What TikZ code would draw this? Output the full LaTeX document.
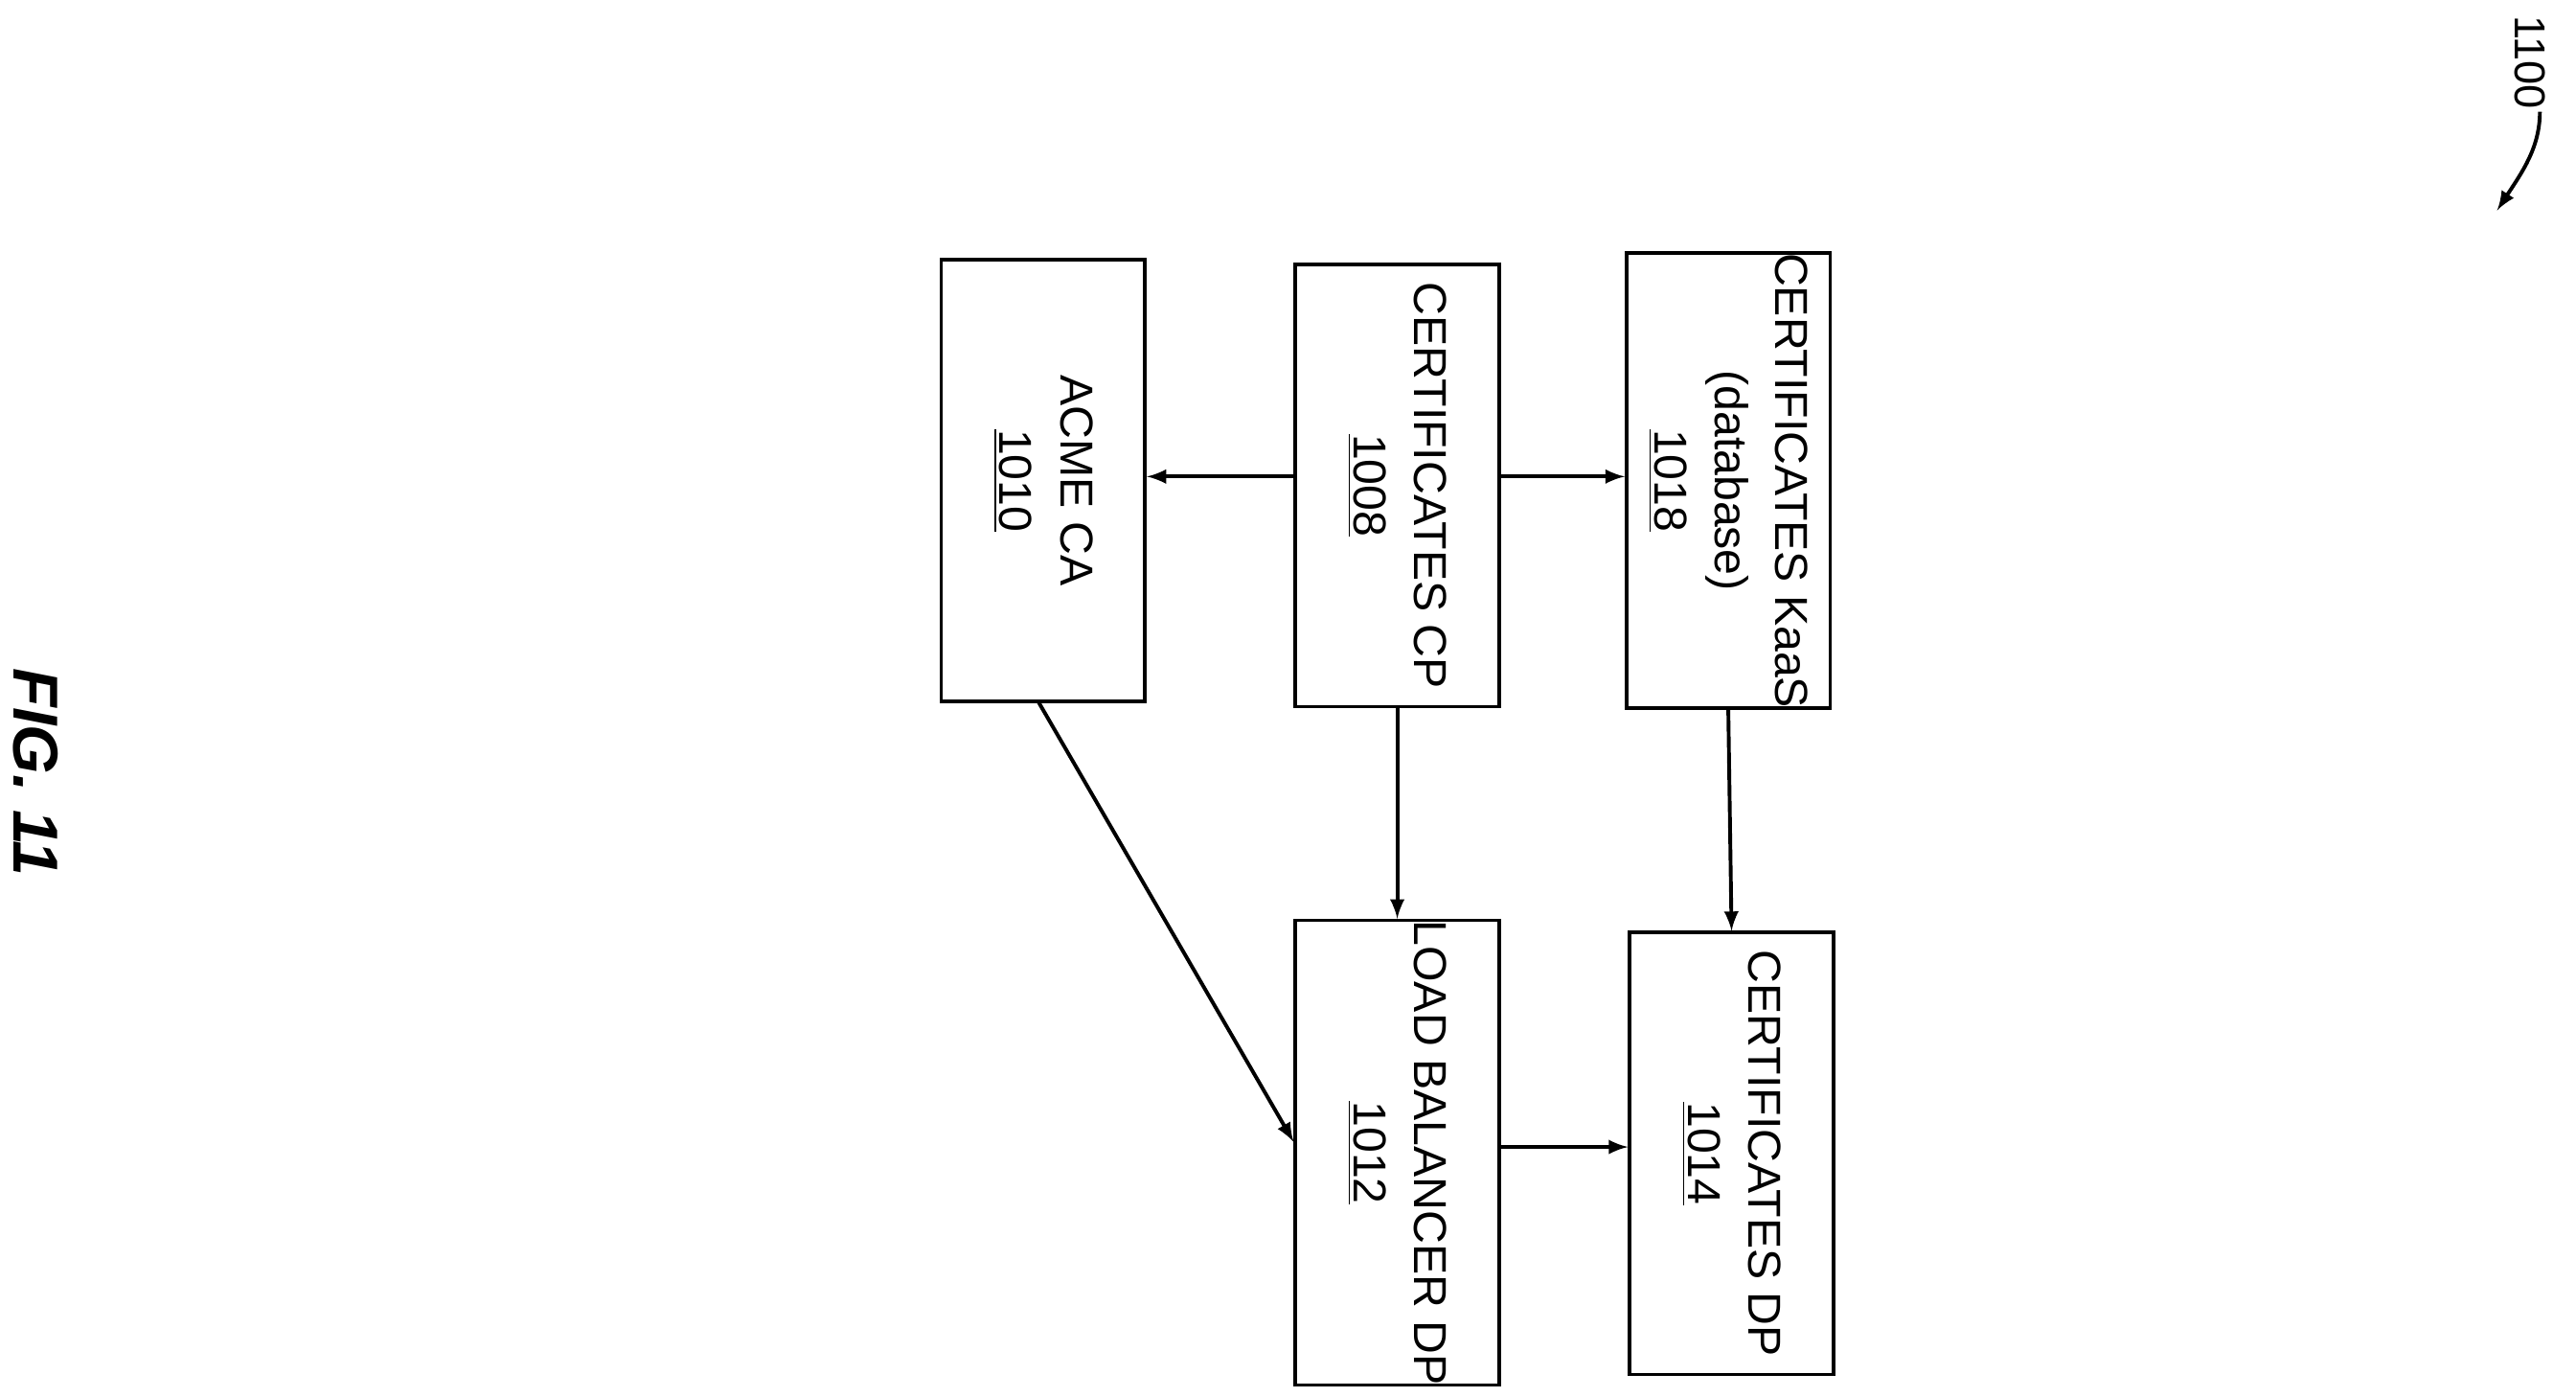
\documentclass[tikz,border=0pt]{standalone}
\usepackage{fontspec}
\setmainfont{Liberation Sans}
\begin{document}
\begin{tikzpicture}[x=0.02cm,y=-0.02cm,
  box/.style={draw,line width=1.2pt,rotate=-90,minimum width=5.38cm,minimum height=2.48cm,align=center,inner sep=0pt,font=\fontsize{16}{21}\selectfont},
  arr/.style={-latex,line width=1.3pt,shorten >=0pt}]
\useasboundingbox (0,0) rectangle (1568,850);
\node[box] (acme) at (635,292.5) {ACME CA\\\underline{1010}};
\node[box] (cp) at (850.5,295.5) {CERTIFICATES CP\\\underline{1008}};
\node[box] (kaas) at (1052,292.5) {CERTIFICATES KaaS\\(database)\\\underline{1018}};
\node[box] (lb) at (850.5,701.5) {LOAD BALANCER DP\\\underline{1012}};
\node[box] (dp) at (1054,702) {CERTIFICATES DP\\\underline{1014}};
\draw[arr] (cp.south |- 0,290) -- (acme.north |- 0,290);
\draw[arr] (cp.north |- 0,290) -- (kaas.south |- 0,290);
\draw[arr] (cp.east) -- (lb.west);
\draw[arr] (kaas.east) -- (dp.west);
\coordinate (a1) at (632,427);
\draw[arr] (a1) -- (lb.south |- 0,695);
\draw[arr] (lb.north |- 0,698) -- (dp.south |- 0,698);
\node[rotate=-90,font=\bfseries\itshape\fontsize{22}{26}\selectfont] (fig) at (22,470) {FIG. 11};
\node[rotate=-90,font=\fontsize{15}{18}\selectfont] (num) at (1540,38) {1100};
\coordinate (c1) at (1546,68);
\draw[arr] (c1) .. controls (1546,90) and (1535,105) .. (1520,128);
\end{tikzpicture}
\end{document}
